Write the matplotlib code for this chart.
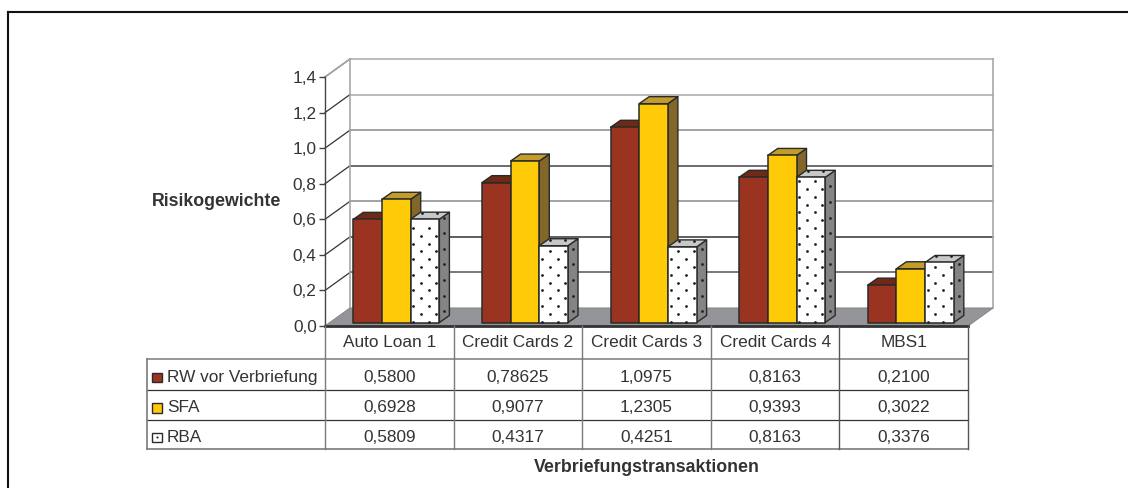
import matplotlib as mpl
mpl.use('Agg')
import matplotlib.pyplot as plt
from matplotlib.patches import Polygon

plt.rcParams['font.family'] = ['Liberation Sans', 'DejaVu Sans']

categories = ['Auto Loan 1', 'Credit Cards 2', 'Credit Cards 3', 'Credit Cards 4', 'MBS1']
series_names = ['RW vor Verbriefung', 'SFA', 'RBA']
rw_values = [0.5800, 0.78625, 1.0975, 0.8163, 0.2100]
sfa_values = [0.6928, 0.9077, 1.2305, 0.9393, 0.3022]
rba_values = [0.5809, 0.4317, 0.4251, 0.8163, 0.3376]
y_ticks = [0.0, 0.2, 0.4, 0.6, 0.8, 1.0, 1.2, 1.4]
y_label = 'Risikogewichte'
x_label = 'Verbriefungstransaktionen'

W, H = 1128, 488
TEXT = '#333333'
EDGE = '#2a2a2a'
# front, top, side colour of each series
FACES = [('#9A3420', '#6E2A14', '#6E2A14'),
         ('#FFCB08', '#C39D2C', '#82662A'),
         ('#FFFFFF', '#C8C8C8', '#848484')]
GRID_COLORS = ['#333333', '#555555', '#333333', '#8a8a8a', '#444444', '#8a8a8a', '#a8a8a8', '#a8a8a8']

# plot area of the front plane, in pixels
LEFT, RIGHT, TOP, BOTTOM = 325, 968, 77, 326
PX_X = (RIGHT - LEFT) / len(categories)
PX_Y = (BOTTOM - TOP) / 1.4


def fmt(v):
    text = f'{v:.4f}' if round(v, 4) == v else f'{v:.5f}'
    return text.replace('.', ',')


def px(dx, dy):
    # pixel offset to data units, dy counted upwards
    return dx / PX_X, dy / PX_Y


fig = plt.figure(figsize=(W / 100, H / 100), dpi=100)

# overlay in pixel coordinates for the frame and the table
over = fig.add_axes([0, 0, 1, 1], zorder=5)
over.set_xlim(0, W)
over.set_ylim(H, 0)
over.axis('off')

ax = fig.add_axes([LEFT / W, 1 - BOTTOM / H, (RIGHT - LEFT) / W, (BOTTOM - TOP) / H], zorder=3)
ax.set_xlim(0, len(categories))
ax.set_ylim(0, 1.4)
ax.patch.set_visible(False)
for name in ['top', 'right', 'bottom']:
    ax.spines[name].set_visible(False)
ax.spines['left'].set_color('#444444')
ax.spines['left'].set_linewidth(1.0)
ax.set_xticks([])
ax.set_yticks(y_ticks)
ax.set_yticklabels([f'{t:.1f}'.replace('.', ',') for t in y_ticks], fontsize=12.4, color=TEXT)
ax.tick_params(axis='y', length=4.5, width=1.0, color='#444444', pad=1.5)

# walls, floor and grid
wx, wy = px(25, 18)
n = len(categories)
floor = Polygon([(0, 0), (n, 0), (n + wx, wy), (wx, wy)], closed=True, fc='#939598', ec='#8a8a8a',
                lw=0.8, clip_on=False, zorder=2)
ax.add_patch(floor)
for t, c in zip(y_ticks, GRID_COLORS):
    if t > 0:
        ax.plot([wx, n + wx], [t + wy, t + wy], color=c, lw=1.1, clip_on=False, zorder=1)
        ax.plot([0, wx], [t, t + wy], color='#333333', lw=0.9, clip_on=False, zorder=1)
ax.plot([wx, wx], [wy, 1.4 + wy], color='#a8a8a8', lw=1.2, clip_on=False, zorder=1)
ax.plot([n + wx, n + wx], [wy, 1.4 + wy], color='#a8a8a8', lw=1.2, clip_on=False, zorder=1)
ax.plot([0, wx], [1.4, 1.4 + wy], color='#a8a8a8', lw=1.1, clip_on=False, zorder=1)
ax.plot([0, n], [0, 0], color='#333333', lw=2.0, clip_on=False, zorder=2.5)

# bars, drawn as front, top and side faces
bar_w = 28.7 / PX_X
gap = 28.3 / PX_X
base = 3.5 / PX_Y
bx, by = px(10, 7)
z = 10


def draw_dots(xs, ys, zorder):
    ax.plot(xs, ys, ls='none', marker='o', ms=2.0, mfc='#222222', mec='none', clip_on=False, zorder=zorder)


for i in range(n):
    for s, values in enumerate([rw_values, sfa_values, rba_values]):
        v = values[i]
        x0 = i + gap + s * bar_w
        x1 = x0 + bar_w
        y0 = base
        y1 = base + v
        front, top, side = FACES[s]
        ax.add_patch(Polygon([(x1, y0), (x1 + bx, y0 + by), (x1 + bx, y1 + by), (x1, y1)], closed=True,
                             fc=side, ec=EDGE, lw=1.0, joinstyle='round', clip_on=False, zorder=z))
        ax.add_patch(Polygon([(x0, y1), (x1, y1), (x1 + bx, y1 + by), (x0 + bx, y1 + by)], closed=True,
                             fc=top, ec=EDGE, lw=1.0, joinstyle='round', clip_on=False, zorder=z))
        ax.add_patch(Polygon([(x0, y0), (x1, y0), (x1, y1), (x0, y1)], closed=True,
                             fc=front, ec=EDGE, lw=1.1, joinstyle='round', clip_on=False, zorder=z + 1))
        if s == 2:
            # staggered dot pattern on the faces of the RBA bars
            xs, ys = [], []
            row = 0
            step_y = 7.8 / PX_Y
            while row * step_y + 0.6 * step_y < v:
                columns = [2.7, 18.3] if row % 2 == 0 else [10.3, 25.7]
                for col in columns:
                    xs.append(x0 + col / PX_X)
                    ys.append(y0 + row * step_y + 1 / PX_Y)
                row += 1
            draw_dots(xs, ys, z + 2)
            xs, ys = [], []
            yy = 0.5 * 15.6 / PX_Y
            while yy < v:
                xs.append(x1 + bx / 2)
                ys.append(y0 + yy + by / 2)
                yy += 15.6 / PX_Y
            draw_dots(xs, ys, z + 2)
            draw_dots([x0 + bx / 2 + 6 / PX_X, x0 + bx / 2 + 21 / PX_X], [y1 + by / 2 + 2.5 / PX_Y] * 2, z + 2)
        z += 3

# outer frame, only the left and top edges are on the canvas
over.plot([8, 8], [12, H], color='#111111', lw=1.5, solid_capstyle='projecting')
over.plot([8, W], [12, 12], color='#111111', lw=1.5, solid_capstyle='projecting')

# data table under the plot
row_edges = [BOTTOM, 359, 390, 420, 449]
col_edges = [LEFT + j * PX_X for j in range(n + 1)]
GREY = '#7a7a7a'
over.plot([147, RIGHT], [row_edges[1]] * 2, color=GREY, lw=1.1)
over.plot([147, RIGHT], [row_edges[2]] * 2, color='#333333', lw=0.9)
over.plot([147, RIGHT], [row_edges[3]] * 2, color='#333333', lw=0.9)
over.plot([147, RIGHT], [row_edges[4]] * 2, color=GREY, lw=1.2)
over.plot([147, 147], [row_edges[1], row_edges[4]], color=GREY, lw=1.2)
for j, xc in enumerate(col_edges):
    over.plot([xc, xc], [BOTTOM, row_edges[4]], color=GREY if j in (0, 1, 2, 3) else '#555555', lw=1.0)

for j, cat in enumerate(categories):
    over.text(LEFT + (j + 0.5) * PX_X, 342.5, cat, ha='center', va='center', fontsize=12.4, color=TEXT)

for r, (name, values) in enumerate(zip(series_names, [rw_values, sfa_values, rba_values])):
    yc = (row_edges[r + 1] + row_edges[r + 2]) / 2
    over.text(167, yc + 3, name, ha='left', va='center', fontsize=12.4, color=TEXT)
    over.add_patch(plt.Rectangle((152, yc - 2), 9.5, 9.5, fc=FACES[r][0], ec=EDGE, lw=1.0))
    if r == 2:
        over.plot([156.8], [yc + 2.8], ls='none', marker='o', ms=1.5, mfc='#222222', mec='none')
    for j, v in enumerate(values):
        over.text(LEFT + (j + 0.5) * PX_X, yc + 2.5, fmt(v), ha='center', va='center', fontsize=12.4, color=TEXT)

over.text(217, 201, y_label, ha='center', va='center', fontsize=12.8, fontweight='bold', color=TEXT)
over.text(647, 468, x_label, ha='center', va='center', fontsize=12.8, fontweight='bold', color=TEXT)

fig.savefig('out.png', dpi=100)
